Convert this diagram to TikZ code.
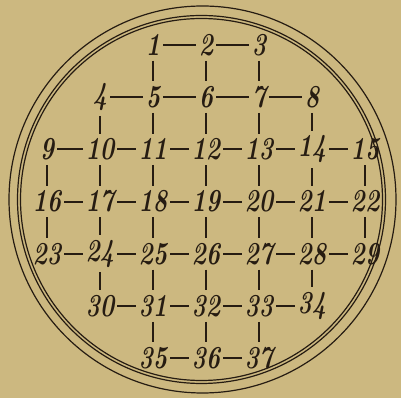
\documentclass[tikz,border=0pt]{standalone}
\usepackage{fontspec}
\usetikzlibrary{positioning}
\definecolor{paper}{RGB}{204, 184, 128}
\definecolor{ink}{RGB}{38, 28, 18}
\newcommand{\slim}[1]{\scalebox{0.76}[1]{#1}}

\begin{document}
\begin{tikzpicture}[
  x=0.75pt, y=-0.75pt,
  num/.style={inner xsep=2pt, inner ysep=3.5pt, text=ink, font=\fontsize{24}{24}\selectfont\bfseries\itshape},
  link/.style={ink, line width=1.5pt},
  rim/.style={ink, line width=0.9pt}
]
  \fill[paper] (0,0) rectangle (401,398);
  \useasboundingbox (0,0) rectangle (401,398);
  % rim of the plate
  \draw[rim] (202.5,199.5) circle[radius=193.5];
  \draw[rim] (201.5,199.5) circle[radius=184];
  \draw[rim] (201.5,199.5) circle[radius=181];
  % numbered places, row by row
  \foreach \r/\first/\lo/\hi in {0/1/2/4, 1/4/1/5, 2/9/0/6, 3/16/0/6, 4/23/0/6, 5/30/1/5, 6/35/2/4} {
    \foreach \c in {\lo,...,\hi} {
      \pgfmathtruncatemacro{\k}{\first+\c-\lo}
      \node[num] (n\k) at (47+53*\c, 45+52.2*\r) {\slim{\k}};
    }
  }
  % rows
  \foreach \a/\b in {1/2, 2/3, 4/5, 5/6, 6/7, 7/8, 9/10, 10/11, 11/12, 12/13, 13/14, 14/15,
                     16/17, 17/18, 18/19, 19/20, 20/21, 21/22, 23/24, 24/25, 25/26, 26/27, 27/28, 28/29,
                     30/31, 31/32, 32/33, 33/34, 35/36, 36/37}
    \draw[link] (n\a) -- (n\b);
  % columns
  \foreach \a/\b in {1/5, 2/6, 3/7, 4/10, 5/11, 6/12, 7/13, 8/14, 9/16, 10/17, 11/18, 12/19, 13/20, 14/21, 15/22,
                     16/23, 17/24, 18/25, 19/26, 20/27, 21/28, 22/29, 24/30, 25/31, 26/32, 27/33, 28/34,
                     31/35, 32/36, 33/37}
    \draw[link] (n\a) -- (n\b);
\end{tikzpicture}
\end{document}
